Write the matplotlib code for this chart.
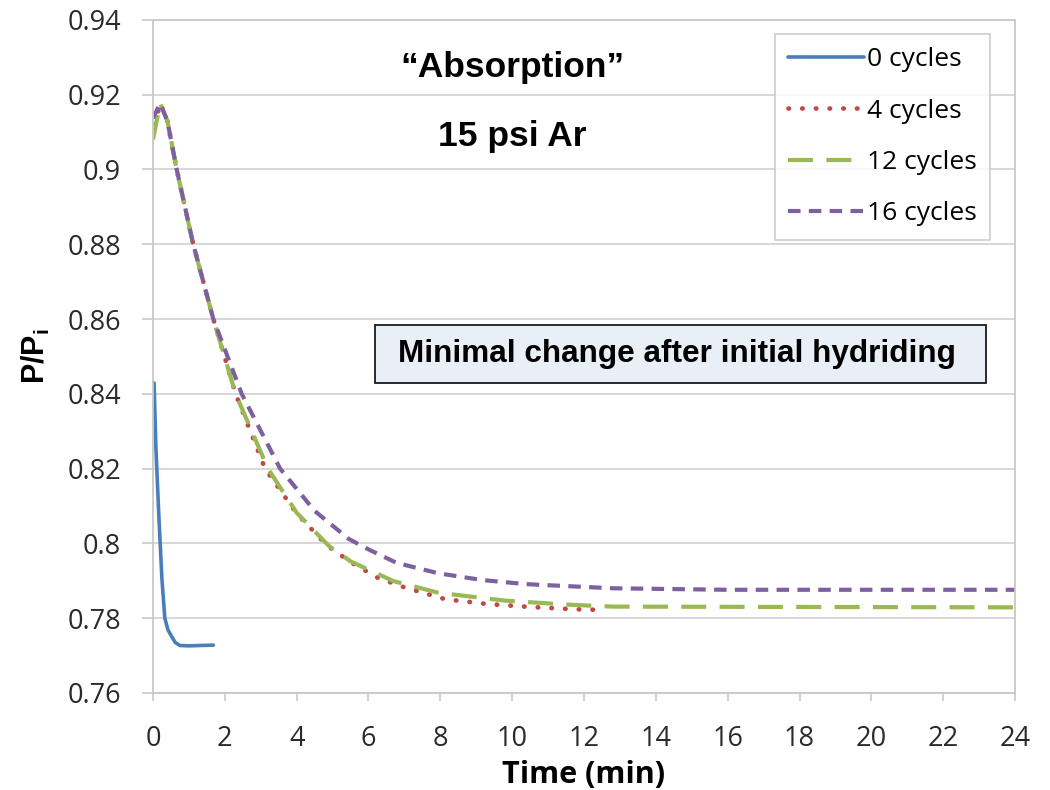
import matplotlib
matplotlib.use("Agg")
import matplotlib.pyplot as plt
from matplotlib.patches import Rectangle

# datos
t0 = [0.03, 0.08, 0.16, 0.25, 0.33, 0.42, 0.52, 0.62, 0.75, 1.0, 1.3, 1.68]
v0 = [0.8429, 0.8259, 0.808, 0.7903, 0.78, 0.7768, 0.7751, 0.7735, 0.7727, 0.7726, 0.7727, 0.7728]

t4 = [0.05, 0.2, 0.4, 0.66, 1.12, 1.68, 2.3, 3.12, 4.0, 4.84, 5.5, 6.24, 6.98, 8.13, 9.3, 10.5, 11.7, 12.56]
v4 = [0.912, 0.9177, 0.913, 0.90, 0.88, 0.86, 0.84, 0.82, 0.808, 0.7995, 0.795, 0.7909, 0.7883, 0.7851,
      0.7838, 0.783, 0.7824, 0.7822]

t12 = [0.0, 0.2, 0.4, 0.66, 1.12, 1.68, 2.3, 3.2, 4.0, 4.9, 5.5, 6.7, 7.95, 9.8, 11.6, 12.8, 24]
v12 = [0.908, 0.9177, 0.913, 0.90, 0.88, 0.86, 0.84, 0.82, 0.8082, 0.7993, 0.7952, 0.7899, 0.7868,
       0.7847, 0.7836, 0.7831, 0.7829]

t16 = [0.0, 0.2, 0.4, 0.66, 1.12, 1.68, 2.47, 3.54, 4.5, 5.45, 6.0, 6.78, 7.95, 9.17, 10.4, 12.8, 16, 24]
v16 = [0.9137, 0.9177, 0.913, 0.90, 0.88, 0.86, 0.84, 0.82, 0.8087, 0.8012, 0.7984, 0.7948, 0.792,
       0.7902, 0.7891, 0.788, 0.7876, 0.7876]

labels = ["0 cycles", "4 cycles", "12 cycles", "16 cycles"]
xticks = list(range(0, 25, 2))
yticks = [0.76, 0.78, 0.8, 0.82, 0.84, 0.86, 0.88, 0.9, 0.92, 0.94]
ytick_labels = ["0.76", "0.78", "0.8", "0.82", "0.84", "0.86", "0.88", "0.9", "0.92", "0.94"]

plt.rcParams["font.family"] = ["Open Sans", "DejaVu Sans"]
plt.rcParams["mathtext.fontset"] = "custom"
plt.rcParams["mathtext.rm"] = "Liberation Sans:bold"
plt.rcParams["mathtext.bf"] = "Liberation Sans:bold"

fig = plt.figure(figsize=(10.5, 7.9), dpi=100)
ax = fig.add_axes([0.1457, 0.1228, 0.821, 0.852])

ax.plot(t0, v0, color="#4a7ebb", lw=2.6, label=labels[0], solid_capstyle="round")
ax.plot(t4, v4, color="#be4b48", lw=3.4, linestyle=(0, (0.1, 2.8)), dash_capstyle="round", label=labels[1])
ax.plot(t12, v12, color="#98b954", lw=3.0, linestyle=(0, (6, 3.2)), label=labels[2])
ax.plot(t16, v16, color="#7d60a0", lw=3.0, linestyle=(0, (3, 2)), label=labels[3])

ax.set_xlim(0, 24)
ax.set_ylim(0.76, 0.94)
ax.set_xticks(xticks)
ax.set_yticks(yticks)
ax.set_yticklabels(ytick_labels)
ax.tick_params(labelsize=19.5, colors="#c8c8c8", labelcolor="#2a2a2a", width=1.2)
ax.tick_params(axis="x", length=6, pad=17)
ax.tick_params(axis="y", length=8, pad=15)
ax.yaxis.grid(True, color="#d4d4d4", lw=1.3)
ax.set_axisbelow(True)
for s in ax.spines.values():
    s.set_color("#c8c8c8")
    s.set_linewidth(1.3)

ax.set_xlabel("Time (min)", fontsize=22, fontweight="bold", labelpad=5)
ax.set_ylabel(r"P/P$_{\mathbf{i}}$", fontsize=22, fontweight="bold", family="Liberation Sans", labelpad=11)

leg = ax.legend(loc="upper right", bbox_to_anchor=(0.971, 0.979), fontsize=19, frameon=True,
                fancybox=False, handlelength=2.9, handletextpad=0.1, borderpad=0.5, labelspacing=1.0,
                borderaxespad=0.0)
leg.get_frame().set_edgecolor("#c0c0c0")
leg.get_frame().set_linewidth(1.2)

ax.text(10.0, 0.9272, "\u201cAbsorption\u201d", fontsize=25.5, fontweight="bold", family="Liberation Sans",
        ha="center", va="center")
ax.text(10.0, 0.9087, "15 psi Ar", fontsize=25.5, fontweight="bold", family="Liberation Sans",
        ha="center", va="center")

# recuadro de la nota
ax.add_patch(Rectangle((6.18, 0.8429), 17.0, 0.0156, facecolor="#e9eff6", edgecolor="#1a1a1a",
                       lw=1.3, zorder=3))
ax.text(14.6, 0.8507, "Minimal change after initial hydriding", fontsize=22.7, fontweight="bold",
        family="Liberation Sans", ha="center", va="center", zorder=4)

fig.savefig("out.png", dpi=100)
